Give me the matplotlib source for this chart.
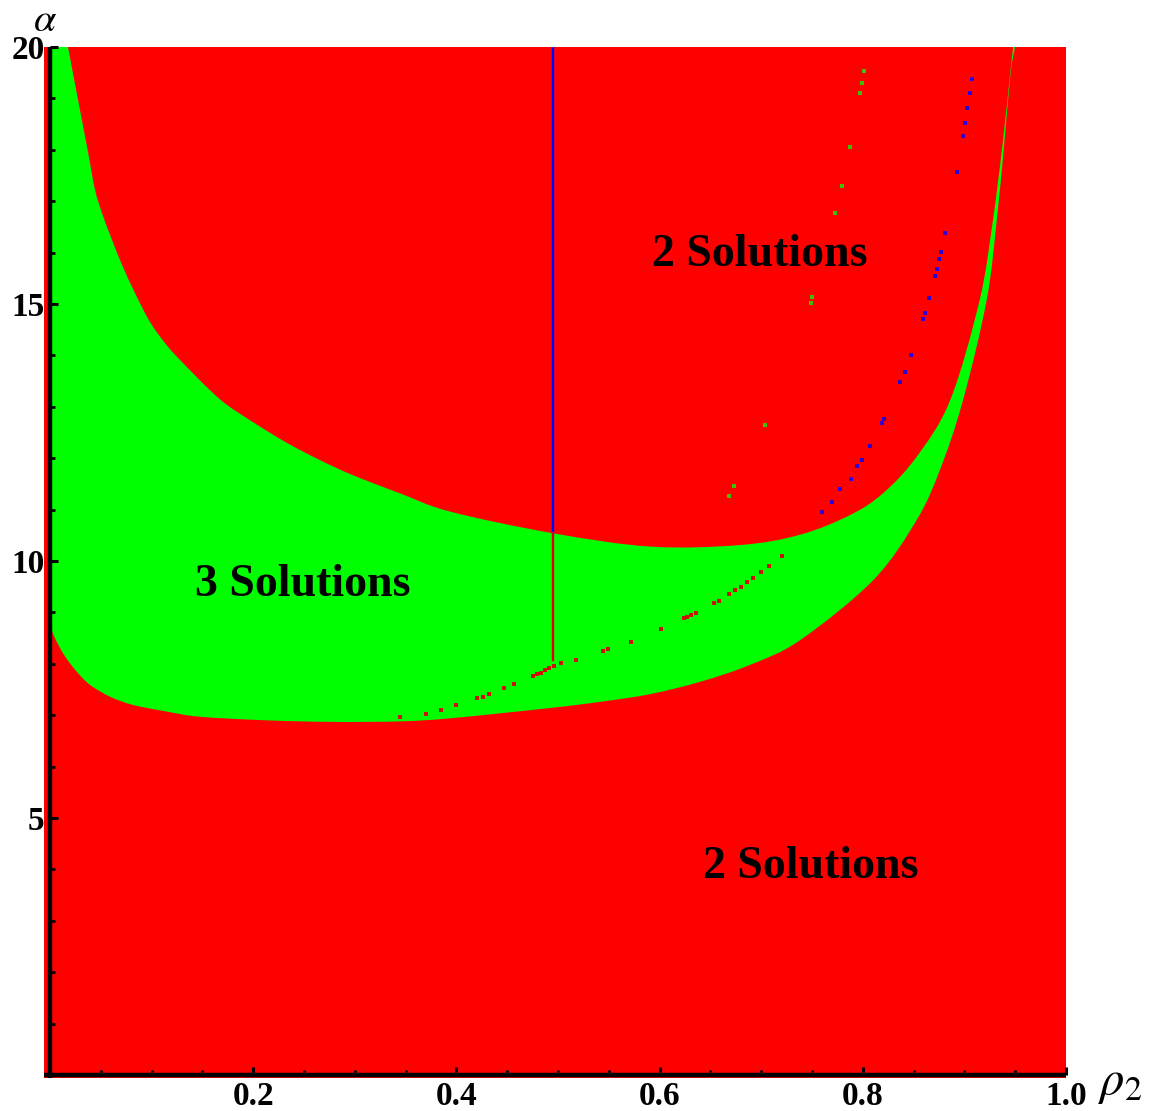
import numpy as np
import matplotlib
matplotlib.use("Agg")
import matplotlib.pyplot as plt
from matplotlib.path import Path
from matplotlib.patches import PathPatch
from matplotlib.ticker import MultipleLocator, FixedLocator

# Boundary of the three-solution region (rho_2, alpha)
upper_rho = [0.0177, 0.0276, 0.0374, 0.0443, 0.0522, 0.0610, 0.0709, 0.0837, 0.0984,
             0.1132, 0.128, 0.167, 0.200, 0.233, 0.266, 0.298, 0.344, 0.394,
             0.495, 0.591, 0.679, 0.738, 0.787, 0.820, 0.853, 0.886, 0.915, 0.928,
             0.938, 0.945, 0.948]
upper_alpha = [20.0, 18.97, 17.96, 17.22, 16.71, 16.25, 15.76, 15.21, 14.65,
               14.24, 13.91, 13.15, 12.70, 12.30, 11.96, 11.67, 11.32, 10.96,
               10.54, 10.28, 10.31, 10.51, 10.89, 11.32, 12.03, 13.13, 15.08, 16.63,
               18.19, 19.49, 20.0]

lower_rho = [0.0005, 0.0020, 0.0049, 0.0098, 0.0167, 0.0266, 0.0394, 0.0591, 0.0817,
             0.1152, 0.1476, 0.2136, 0.2785, 0.3445, 0.3937, 0.4921, 0.5413, 0.5906,
             0.6398, 0.6890, 0.7382, 0.8103, 0.8530, 0.8760, 0.8986, 0.9219, 0.9318,
             0.9395, 0.9454, 0.9498]
lower_alpha = [8.81, 8.64, 8.50, 8.31, 8.09, 7.84, 7.59, 7.36, 7.20,
               7.07, 6.97, 6.90, 6.87, 6.88, 6.94, 7.14, 7.26, 7.41,
               7.65, 7.98, 8.46, 9.63, 10.80, 11.78, 13.13, 15.08, 16.63,
               18.19, 19.49, 20.0]

# Cut at rho_2 = 0.495
cut_rho = 0.495
cut_top, cut_mid, cut_bottom = 20.0, 10.54, 8.08

# Sampled transition points
red_pts_rho = [0.344, 0.370, 0.385, 0.400, 0.420, 0.426, 0.4325, 0.447, 0.457, 0.475,
               0.479, 0.483, 0.4875, 0.4915, 0.496, 0.503, 0.518, 0.544, 0.549, 0.572,
               0.601, 0.624, 0.627, 0.631, 0.636, 0.654, 0.658, 0.668, 0.674, 0.680,
               0.686, 0.692, 0.700, 0.708, 0.720]
red_pts_alpha = [6.97, 7.03, 7.10, 7.20, 7.33, 7.36, 7.41, 7.52, 7.61, 7.76,
                 7.80, 7.83, 7.88, 7.91, 7.96, 8.01, 8.07, 8.24, 8.28, 8.43,
                 8.67, 8.89, 8.92, 8.95, 8.99, 9.19, 9.23, 9.35, 9.44, 9.50,
                 9.59, 9.66, 9.79, 9.90, 10.10]

blue_pts_rho = [0.760, 0.770, 0.778, 0.788, 0.794, 0.799, 0.807, 0.819, 0.8205, 0.837,
                0.841, 0.847, 0.859, 0.861, 0.865, 0.871, 0.873, 0.875, 0.877, 0.881,
                0.893, 0.899, 0.901, 0.903, 0.905, 0.907]
blue_pts_alpha = [10.95, 11.15, 11.40, 11.60, 11.85, 11.97, 12.24, 12.68, 12.76, 13.49,
                  13.67, 14.01, 14.71, 14.83, 15.11, 15.54, 15.69, 15.87, 16.02, 16.38,
                  17.57, 18.27, 18.53, 18.82, 19.10, 19.37]

green_pts_rho = [0.668, 0.673, 0.704, 0.749, 0.750, 0.773, 0.779, 0.787, 0.797, 0.799, 0.801]
green_pts_alpha = [11.26, 11.46, 12.65, 15.01, 15.14, 16.78, 17.30, 18.05, 19.10, 19.29, 19.53]

x_major = [0.2, 0.4, 0.6, 0.8, 1.0]
x_labels = ["0.2", "0.4", "0.6", "0.8", "1.0"]
y_major = [5, 10, 15, 20]
y_labels = ["5", "10", "15", "20"]

RED = "#ff0000"
GREEN = "#00ff00"
BLUE = "#0000ff"

serif = ["Liberation Serif", "DejaVu Serif"]
plt.rcParams["mathtext.fontset"] = "stix"


def smooth_segments(xs, ys):
    """Catmull-Rom through the given points, returned as cubic Bezier vertices
    (the first point is not included)."""
    p = np.column_stack([xs, ys]).astype(float)
    ext = np.vstack([2 * p[0] - p[1], p, 2 * p[-1] - p[-2]])
    verts = []
    for i in range(1, len(ext) - 2):
        p0, p1, p2, p3 = ext[i - 1], ext[i], ext[i + 1], ext[i + 2]
        c1 = p1 + (p2 - p0) / 6.0
        c2 = p2 - (p3 - p1) / 6.0
        verts += [tuple(c1), tuple(c2), tuple(p2)]
    return verts


fig = plt.figure(figsize=(11.58, 11.11), dpi=100)
ax = fig.add_axes([0.038, 0.0297, 0.8826, 0.928])
xmin, ymin = -0.0059, -0.058
ax.set_xlim(xmin, 1.0)
ax.set_ylim(ymin, 20.0)

# Background: two-solution region
ax.axvspan(xmin, 1.0, ymin=0, ymax=1, color=RED, lw=0, zorder=0)

# Three-solution region: left edge, top edge, upper curve, lower curve back
verts = [(0.0, lower_alpha[0]), (0.0, 20.0), (upper_rho[0], upper_alpha[0])]
codes = [Path.MOVETO, Path.LINETO, Path.LINETO]
up = smooth_segments(upper_rho, upper_alpha)
verts += up
codes += [Path.CURVE4] * len(up)
verts.append((lower_rho[-1], lower_alpha[-1]))
codes.append(Path.LINETO)
lo = smooth_segments(lower_rho[::-1], lower_alpha[::-1])
verts += lo
codes += [Path.CURVE4] * len(lo)
verts.append((0.0, lower_alpha[0]))
codes.append(Path.CLOSEPOLY)
ax.add_patch(PathPatch(Path(verts, codes), facecolor=GREEN, lw=0, zorder=1))

# Vertical cut
ax.plot([cut_rho, cut_rho], [cut_top, cut_mid], color=BLUE, lw=1.7, zorder=2)
ax.plot([cut_rho, cut_rho], [cut_mid, cut_bottom], color="#e00000", lw=1.7, zorder=2)

# Transition samples
ax.scatter(red_pts_rho, red_pts_alpha, s=5, marker="s", color="#c81400", lw=0, zorder=3)
ax.scatter(blue_pts_rho, blue_pts_alpha, s=5, marker="s", color="#3000d0", lw=0, zorder=3)
ax.scatter(green_pts_rho, green_pts_alpha, s=5, marker="s", color="#40c000", lw=0, zorder=3)

# Region labels
lab_kw = dict(fontsize=33, fontweight="bold", family=serif, ha="center", va="center", zorder=4)
ax.text(0.249, 9.53, "3 Solutions", **lab_kw)
ax.text(0.699, 15.95, "2 Solutions", **lab_kw)
ax.text(0.749, 4.05, "2 Solutions", **lab_kw)

# Axes styling
for s in ["top", "right"]:
    ax.spines[s].set_visible(False)
ax.spines["left"].set_position(("data", 0.0))
ax.spines["bottom"].set_position(("data", 0.0))
for s in ["left", "bottom"]:
    ax.spines[s].set_linewidth(3.2)
    ax.spines[s].set_zorder(5)
    ax.spines[s].set_capstyle("butt")

ax.xaxis.set_major_locator(FixedLocator(x_major))
ax.xaxis.set_minor_locator(MultipleLocator(0.05))
ax.yaxis.set_major_locator(FixedLocator(y_major))
ax.yaxis.set_minor_locator(MultipleLocator(1))
ax.set_xticklabels(x_labels)
ax.set_yticklabels(y_labels)
ax.tick_params(which="major", direction="in", length=6, width=2.2, pad=4, zorder=5)
ax.tick_params(which="minor", direction="in", length=3.5, width=2.0, zorder=5)
for lab in ax.get_xticklabels() + ax.get_yticklabels():
    lab.set_family(serif)
    lab.set_fontweight("bold")
    lab.set_fontsize(24)

# Axis labels
fig.text(45 / 1158, 1 - 20 / 1111, r"$\alpha$", fontsize=29, ha="center", va="center")
fig.text(1120 / 1158, 1 - 1082 / 1111, r"$\rho_2$", fontsize=35, ha="center", va="center")

fig.savefig("out.png", dpi=100)
